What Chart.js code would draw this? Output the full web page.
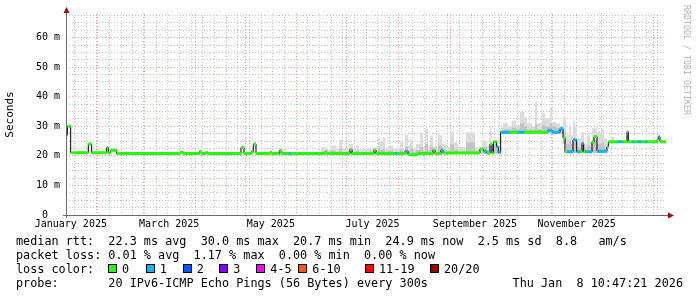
<!DOCTYPE html>
<html>
<head>
<meta charset="utf-8">
<script src="https://cdn.jsdelivr.net/npm/chart.js@4.4.1/dist/chart.umd.min.js"></script>
<style>
  body { margin: 0; background: #fff; }
  #wrap { position: relative; width: 697px; height: 297px; overflow: hidden; background: #fff; }
  canvas { position: absolute; left: 0; top: 0; }
  .txt { position: absolute; font: 11.8px 'DejaVu Sans Mono', monospace; white-space: pre; line-height: 14px; color: #000; }
  .box { position: absolute; width: 7px; height: 7px; border: 1px solid #000; }
  #mark { position: absolute; left: 692px; top: 5px; transform-origin: 0 0; transform: rotate(90deg);
          font: 8.3px 'DejaVu Sans Mono', monospace; color: #b4b4b4; white-space: nowrap; line-height: 10px; }
</style>
</head>
<body>
<div id="wrap">
  <canvas id="c" width="697" height="297"></canvas>
  <div id="mark">RRDTOOL / TOBI OETIKER</div>
  <div class="txt" style="left:16px;top:234px">median rtt:  22.3 ms avg  30.0 ms max  20.7 ms min  24.9 ms now  2.5 ms sd  8.8   am/s</div>
  <div class="txt" style="left:16px;top:248px">packet loss: 0.01 % avg  1.17 % max  0.00 % min  0.00 % now</div>
  <div class="txt" style="left:16px;top:262px" id="lossline">loss color:</div>
  <div class="txt" style="left:16px;top:276px">probe:       20 IPv6-ICMP Echo Pings (56 Bytes) every 300s</div>
  <div class="txt" style="right:14px;top:276px">Thu Jan  8 10:47:21 2026</div>
</div>
<script>
// x axis in days since 1 Jan 2025
var xMin = 12.6, xMax = 372.6;
var monthStarts = [0, 31, 59, 90, 120, 151, 181, 212, 243, 273, 304, 334, 365];
var monthLabels = ['January 2025', '', 'March 2025', '', 'May 2025', '', 'July 2025', '', 'September 2025', '', 'November 2025', ''];
var yTickValues = [0, 10, 20, 30, 40, 50, 60];
var yTickLabels = [' 0  ', '10 m', '20 m', '30 m', '40 m', '50 m', '60 m'];

// loss legend
var lossLabels = ['0', '1', '2', '3', '4-5', '6-10', '11-19', '20/20'];
var lossColors = ['#26ff00', '#00b8ff', '#0059ff', '#7e00ff', '#ff00ff', '#ff5a00', '#ff0000', '#a00000'];

// median rtt (ms), step function: value holds from day until next day
var medianDays = [12.6, 13.4, 15.4, 26.0, 28.0, 37.0, 38.0, 39.4, 43.0, 81.0, 82.8, 92.6, 93.6, 96.0, 97.8,
  117.6, 119.4, 124.0, 125.0, 126.6, 135.0, 136.2, 140.6, 141.6, 146.4, 147.6, 168.0, 169.2, 183.0, 184.2,
  197.4, 198.6, 210.0, 211.2, 216.0, 217.8, 223.2, 232.8, 234.0, 237.6, 238.8, 261.0, 263.0, 265.0, 267.0,
  268.2, 269.0, 271.0, 272.0, 273.4, 279.0, 283.8, 287.4, 301.8, 304.2, 309.0, 310.8, 312.0, 313.2, 316.8,
  319.0, 321.0, 322.2, 323.2, 324.0, 328.2, 329.4, 331.2, 337.2, 338.0, 343.2, 346.2, 349.2, 350.0, 352.2,
  353.4, 355.2, 358.2, 360.0, 361.2, 367.2, 368.0, 369.0, 372.6];
var medianMs = [27.0, 30.0, 21.1, 24.0, 21.1, 22.8, 21.0, 21.9, 20.8, 21.2, 20.8, 21.5, 20.8, 21.1, 20.8,
  22.8, 20.8, 21.5, 24.0, 20.8, 21.2, 20.8, 21.8, 20.8, 20.8, 20.8, 21.4, 20.8, 22.2, 20.8,
  22.0, 20.8, 20.8, 20.8, 21.6, 20.4, 20.8, 22.0, 20.8, 22.0, 21.0, 22.3, 21.6, 20.9, 24.0,
  21.0, 24.8, 23.1, 21.2, 28.0, 28.0, 28.0, 28.0, 28.7, 28.0, 29.2, 26.0, 21.4, 21.4, 25.4,
  21.4, 21.4, 24.3, 21.4, 21.4, 24.6, 26.5, 21.6, 23.1, 24.8, 24.8, 24.8, 28.2, 24.8, 24.8,
  24.8, 24.8, 24.8, 24.8, 24.8, 25.5, 26.5, 24.8, 24.8];
var medianLoss = [1, 0, 0, 0, 0, 0, 0, 0, 0, 0, 0, 0, 0, 0, 0,
  0, 0, 0, 0, 0, 0, 0, 0, 0, 1, 0, 0, 0, 0, 0,
  0, 0, 1, 0, 1, 0, 0, 0, 0, 1, 0, 0, 1, 0, 0,
  0, 0, 1, 1, 1, 0, 1, 0, 1, 1, 1, 0, 0, 1, 1,
  1, 0, 1, 0, 1, 0, 0, 1, 0, 0, 1, 0, 0, 0, 1,
  0, 1, 0, 1, 0, 0, 1, 0, 0];

// smoke (ping spread, ms)
var smokeDays = [12.6, 165.6, 168.6, 171.0, 174.6, 176.4, 178.2, 180.6, 182.4, 184.8, 186.6, 188.4, 192.0, 199.8, 201.0,
  202.8, 204.0, 205.8, 208.8, 213.0, 214.8, 216.0, 217.8, 219.0, 220.8, 222.6, 225.0, 226.8, 228.0, 229.8,
  231.0, 232.8, 235.8, 238.2, 241.2, 243.0, 245.4, 247.8, 252.6, 258.0, 261.0, 262.2, 265.2, 267.0, 267.9,
  268.8, 271.2, 273.4, 274.8, 277.8, 280.2, 282.6, 285.0, 287.4, 289.2, 292.2, 294.0, 295.2, 298.2, 300.0,
  303.0, 304.2, 306.6, 309.0, 310.8, 312.6, 314.4, 315.6, 316.8, 318.0, 319.2, 321.6, 323.4, 325.2, 327.0,
  328.2, 331.2, 333.6, 335.4, 337.2, 340.2, 341.4, 348.6, 349.8, 372.6];
var smokeLow = [20.6, 20.6, 20.6, 20.6, 20.6, 20.6, 20.6, 20.6, 20.6, 20.6, 20.6, 20.6, 20.6, 20.6, 20.6,
  20.6, 20.6, 20.6, 20.6, 20.6, 20.6, 20.6, 20.6, 20.6, 20.6, 20.6, 20.6, 20.6, 20.6, 20.6,
  20.6, 20.6, 20.6, 20.6, 20.6, 20.6, 20.6, 20.6, 20.6, 20.6, 20.6, 20.6, 20.6, 20.6, 20.6,
  20.6, 20.6, 27.5, 27.5, 27.5, 27.5, 27.5, 27.5, 27.5, 27.5, 27.5, 27.5, 27.5, 27.5, 27.5,
  27.5, 27.5, 27.5, 27.5, 24.0, 21.0, 21.0, 21.0, 21.0, 21.0, 21.0, 21.0, 21.0, 21.0, 21.0,
  21.0, 21.0, 21.0, 21.0, 24.0, 24.5, 24.5, 24.5, 24.5, 24.5];
var smokeTop = [20.6, 23.0, 22.0, 23.5, 22.3, 25.5, 22.3, 23.0, 24.0, 22.5, 23.5, 22.3, 22.7, 26.0, 25.0,
  26.0, 22.8, 23.5, 22.5, 24.8, 22.5, 27.0, 23.5, 25.5, 22.5, 24.0, 27.5, 23.0, 29.3, 23.5,
  27.0, 23.0, 27.0, 24.0, 23.0, 28.2, 24.5, 23.0, 28.0, 23.0, 22.0, 25.1, 23.5, 29.9, 24.0,
  25.0, 23.0, 29.5, 31.0, 30.0, 32.0, 30.5, 35.0, 33.0, 31.0, 30.0, 38.3, 31.0, 34.4, 32.7,
  36.6, 31.5, 31.0, 30.0, 33.0, 27.0, 30.4, 27.0, 32.0, 30.0, 26.0, 28.0, 24.0, 27.0, 25.0,
  29.4, 28.0, 29.0, 26.0, 24.0, 26.5, 24.5, 27.0, 24.5, 24.5];
var smokeMid = [20.6, 21.5, 21.2, 21.8, 21.3, 22.5, 21.3, 21.5, 22.0, 21.3, 21.8, 21.2, 21.4, 22.5, 22.0,
  22.5, 21.5, 21.8, 21.3, 22.2, 21.3, 23.0, 21.8, 22.5, 21.3, 22.0, 23.0, 21.5, 24.0, 21.8,
  23.0, 21.5, 23.5, 22.0, 21.5, 24.0, 22.2, 21.5, 24.5, 21.5, 21.0, 23.0, 22.0, 24.0, 22.5,
  24.0, 22.0, 28.5, 29.0, 28.8, 29.5, 29.0, 31.0, 30.0, 29.0, 28.8, 30.5, 29.0, 30.5, 30.0,
  31.0, 30.0, 29.5, 29.5, 28.0, 24.0, 25.0, 24.0, 26.0, 25.0, 23.0, 24.0, 22.5, 23.5, 23.0,
  25.5, 24.0, 24.5, 23.0, 24.0, 25.2, 24.5, 25.5, 24.5, 24.5];

// legend boxes
var lossBoxX = [108, 145.7, 182.7, 219.3, 256.3, 298.3, 365, 430];
var wrap = document.getElementById('wrap');
lossLabels.forEach(function (lab, i) {
    var b = document.createElement('div');
    b.className = 'box';
    b.style.left = lossBoxX[i] + 'px';
    b.style.top = '264px';
    b.style.background = lossColors[i];
    wrap.appendChild(b);
    var t = document.createElement('div');
    t.className = 'txt';
    t.style.left = (lossBoxX[i] + 14) + 'px';
    t.style.top = '262px';
    t.textContent = lab;
    wrap.appendChild(t);
});

// tick positions
var labelDays = [], labelText = {};
monthLabels.forEach(function (lab, i) {
    if (lab) {
        var mid = (monthStarts[i] + monthStarts[i + 1]) / 2;
        labelDays.push(mid);
        labelText[mid] = lab;
    }
});
var weekDays = [];
for (var w = 17.6; w < xMax; w += 7) weekDays.push(w);
var xTicks = weekDays.concat(monthStarts, labelDays)
    .filter(function (v) { return v > xMin && v < xMax; })
    .sort(function (a, b) { return a - b; });
var yTicks = [];
for (var yv = 0; yv < 68; yv += 2.5) yTicks.push(yv);

var majorGrid = '#eea4a4', minorGrid = '#c4c4c4';

function stepPoints(days, vals) {
    return days.map(function (d, i) { return {x: d, y: vals[Math.min(i, vals.length - 1)]}; });
}
// colored median pieces, one dataset per loss level
function lossPieces(level) {
    var pts = [];
    for (var i = 0; i < medianMs.length; i++) {
        if (medianLoss[i] !== level) continue;
        pts.push({x: medianDays[i], y: medianMs[i]});
        pts.push({x: medianDays[i + 1], y: medianMs[i]});
        pts.push({x: medianDays[i + 1], y: null});
    }
    return pts;
}

var axesArrows = {
    id: 'axesArrows',
    afterDatasetsDraw: function (chart) {
        var ctx = chart.ctx, a = chart.chartArea;
        ctx.save();
        ctx.strokeStyle = '#6a6a6a';
        ctx.lineWidth = 1;
        ctx.beginPath();
        ctx.moveTo(a.left - 3, a.bottom + 0.5);
        ctx.lineTo(a.right + 3, a.bottom + 0.5);
        ctx.moveTo(a.left + 0.5, a.bottom + 3);
        ctx.lineTo(a.left + 0.5, a.top - 3);
        ctx.stroke();
        ctx.fillStyle = '#9a1010';
        ctx.beginPath();
        ctx.moveTo(a.right + 2, a.bottom - 2.5);
        ctx.lineTo(a.right + 8, a.bottom + 0.5);
        ctx.lineTo(a.right + 2, a.bottom + 3.5);
        ctx.fill();
        ctx.beginPath();
        ctx.moveTo(a.left - 2.5, a.top - 1);
        ctx.lineTo(a.left + 0.5, a.top - 7);
        ctx.lineTo(a.left + 3.5, a.top - 1);
        ctx.fill();
        ctx.restore();
    }
};

var monoFont = "'DejaVu Sans Mono', monospace";

new Chart(document.getElementById('c'), {
    type: 'line',
    data: {
        datasets: [
            {data: lossPieces(0), borderColor: lossColors[0], borderWidth: 3, borderCapStyle: 'butt', pointRadius: 0, fill: false},
            {data: lossPieces(1), borderColor: lossColors[1], borderWidth: 3, borderCapStyle: 'butt', pointRadius: 0, fill: false},
            {data: stepPoints(medianDays, medianMs), borderColor: '#000', borderWidth: 1, stepped: true, pointRadius: 0, fill: false},
            {data: stepPoints(smokeDays, smokeMid), borderWidth: 0, borderColor: 'rgba(0,0,0,0)', backgroundColor: '#c4c4c4', stepped: true, pointRadius: 0, fill: 5},
            {data: stepPoints(smokeDays, smokeTop), borderWidth: 0, borderColor: 'rgba(0,0,0,0)', backgroundColor: '#dcdcdc', stepped: true, pointRadius: 0, fill: 5},
            {data: stepPoints(smokeDays, smokeLow), borderWidth: 0, borderColor: 'rgba(0,0,0,0)', stepped: true, pointRadius: 0, fill: false}
        ]
    },
    options: {
        responsive: false,
        animation: false,
        devicePixelRatio: 1,
        layout: {padding: {left: 0, right: 31, top: 14, bottom: 62}},
        plugins: {legend: {display: false}, tooltip: {enabled: false}},
        scales: {
            x: {
                type: 'linear',
                min: xMin,
                max: xMax,
                afterFit: function (s) { s.height = 20; },
                afterBuildTicks: function (s) { s.ticks = xTicks.map(function (v) { return {value: v}; }); },
                grid: {
                    drawTicks: false,
                    color: function (c) {
                        var v = c.tick ? c.tick.value : null;
                        if (monthStarts.indexOf(v) >= 0) return majorGrid;
                        if (labelDays.indexOf(v) >= 0) return 'rgba(0,0,0,0)';
                        return minorGrid;
                    }
                },
                border: {display: false, dash: [1, 2]},
                ticks: {
                    autoSkip: false, maxRotation: 0, padding: 3, color: '#000',
                    font: {family: monoFont, size: 10},
                    callback: function (v) { return labelText[v] || ''; }
                }
            },
            y: {
                min: 0,
                max: 68,
                afterFit: function (s) { s.width = 66; },
                afterBuildTicks: function (s) { s.ticks = yTicks.map(function (v) { return {value: v}; }); },
                grid: {
                    drawTicks: false,
                    color: function (c) {
                        var v = c.tick ? c.tick.value : 0;
                        return v % 10 === 0 ? majorGrid : minorGrid;
                    }
                },
                border: {display: false, dash: [1, 2]},
                title: {display: true, text: 'Seconds', color: '#000', font: {family: monoFont, size: 11}, padding: {top: 4}},
                ticks: {
                    autoSkip: false, padding: 6, color: '#000',
                    font: {family: monoFont, size: 10},
                    callback: function (v) {
                        var i = yTickValues.indexOf(v);
                        return i >= 0 ? yTickLabels[i] : '';
                    }
                }
            }
        }
    },
    plugins: [axesArrows]
});
</script>
</body>
</html>
